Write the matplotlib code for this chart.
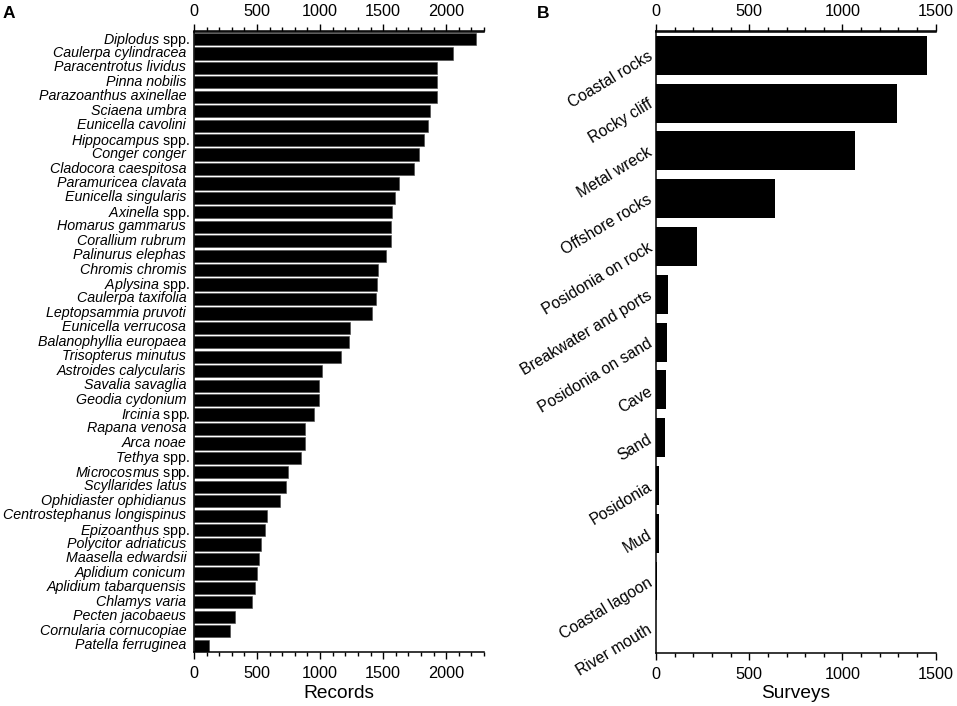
import matplotlib
matplotlib.use("Agg")
import matplotlib.pyplot as plt
from matplotlib.ticker import MultipleLocator
from matplotlib.transforms import ScaledTranslation

plt.rcParams['font.family'] = ['Liberation Sans', 'DejaVu Sans']
plt.rcParams['mathtext.fontset'] = 'custom'
plt.rcParams['mathtext.it'] = 'Liberation Sans:italic'
plt.rcParams['mathtext.rm'] = 'Liberation Sans'

species = ["Diplodus spp.", "Caulerpa cylindracea", "Paracentrotus lividus", "Pinna nobilis",
           "Parazoanthus axinellae", "Sciaena umbra", "Eunicella cavolini", "Hippocampus spp.",
           "Conger conger", "Cladocora caespitosa", "Paramuricea clavata", "Eunicella singularis",
           "Axinella spp.", "Homarus gammarus", "Corallium rubrum", "Palinurus elephas",
           "Chromis chromis", "Aplysina spp.", "Caulerpa taxifolia", "Leptopsammia pruvoti",
           "Eunicella verrucosa", "Balanophyllia europaea", "Trisopterus minutus",
           "Astroides calycularis", "Savalia savaglia", "Geodia cydonium", "Ircinia spp.",
           "Rapana venosa", "Arca noae", "Tethya spp.", "Microcosmus spp.", "Scyllarides latus",
           "Ophidiaster ophidianus", "Centrostephanus longispinus", "Epizoanthus spp.",
           "Polycitor adriaticus", "Maasella edwardsii", "Aplidium conicum",
           "Aplidium tabarquensis", "Chlamys varia", "Pecten jacobaeus",
           "Cornularia cornucopiae", "Patella ferruginea"]
records = [2233, 2053, 1931, 1929, 1926, 1868, 1852, 1825, 1788, 1743, 1627,
           1595, 1571, 1566, 1561, 1521, 1463, 1455, 1447, 1410, 1235, 1230,
           1169, 1016, 989, 989, 955, 878, 878, 847, 749, 730,
           680, 579, 566, 534, 513, 503, 481, 463, 325, 283, 122]

habitats = ["Coastal rocks", "Rocky cliff", "Metal wreck", "Offshore rocks", "Posidonia on rock",
            "Breakwater and ports", "Posidonia on sand", "Cave", "Sand", "Posidonia", "Mud",
            "Coastal lagoon", "River mouth"]
surveys = [1451, 1294, 1067, 640, 218, 66, 57, 53, 49, 18, 14, 7, 2]

W, H = 957, 706
fig = plt.figure(figsize=(W / 100, H / 100), dpi=100)


def make_axes(x0, x1, y0, y1):
    return fig.add_axes([x0 / W, 1 - y1 / H, (x1 - x0) / W, (y1 - y0) / H])


def style(ax, xmax, label):
    ax.set_xlim(0, xmax)
    for s in ('top', 'bottom', 'left'):
        ax.spines[s].set_linewidth(1.1)
    ax.spines['right'].set_visible(False)
    ax.xaxis.set_major_locator(MultipleLocator(500))
    ax.xaxis.set_minor_locator(MultipleLocator(100))
    ax.tick_params(axis='x', which='major', top=False, bottom=True, labeltop=False, labelbottom=True,
                   length=5.2, width=1.0, labelsize=11.7, pad=5.2)
    ax.tick_params(axis='x', which='minor', top=False, bottom=True, length=2.8, width=1.0)
    ax.tick_params(axis='y', length=0)
    ax.set_xlabel(label, fontsize=13.8, labelpad=2.4)
    sec = ax.secondary_xaxis('top')
    sec.spines['top'].set_linewidth(1.1)
    sec.xaxis.set_major_locator(MultipleLocator(500))
    sec.xaxis.set_minor_locator(MultipleLocator(100))
    sec.tick_params(axis='x', which='major', length=5.2, width=1.0, labelsize=11.7, pad=3.6)
    sec.tick_params(axis='x', which='minor', length=2.8, width=1.0)


def italic_label(name):
    if name.endswith(' spp.'):
        return r'$\mathit{' + name[:-5] + r'}$ spp.'
    return name


# Panel A
axA = make_axes(194, 484, 31.5, 652)
axA.barh(range(len(species)), records, height=0.85, color='black', edgecolor='#444444', linewidth=0.4)
axA.set_ylim(len(species) - 1 + 0.44, -0.52)
axA.set_yticks(range(len(species)))
axA.set_yticklabels([italic_label(n) for n in species], fontsize=10.3)
style(axA, 2300, 'Records')
shift = ScaledTranslation(0, 2.0 / 100, fig.dpi_scale_trans)
for tick, name in zip(axA.yaxis.get_major_ticks(), species):
    spp = name.endswith(' spp.')
    tick.set_pad(2.8 if spp else 5.6)
    tick.label1.set_transform(tick.label1.get_transform() + shift)
    if not spp:
        tick.label1.set_fontstyle('italic')

# Panel B
axB = make_axes(656, 935.7, 31.5, 652.7)
axB.barh(range(len(habitats)), surveys, height=0.815, color='black', linewidth=0)
axB.set_ylim(len(habitats) - 1 + 0.5, -0.5)
axB.set_yticks(range(len(habitats)))
axB.set_yticklabels(habitats, fontsize=11.3, rotation=31, ha='right', va='center',
                    rotation_mode='anchor')
style(axB, 1500, 'Surveys')
axB.tick_params(axis='y', pad=3.6)

fig.text(3 / W, 1 - 18 / H, 'A', fontsize=12.5, fontweight='bold', va='baseline', ha='left')
fig.text(537 / W, 1 - 18 / H, 'B', fontsize=12.5, fontweight='bold', va='baseline', ha='left')

fig.savefig('out.png', dpi=100)
